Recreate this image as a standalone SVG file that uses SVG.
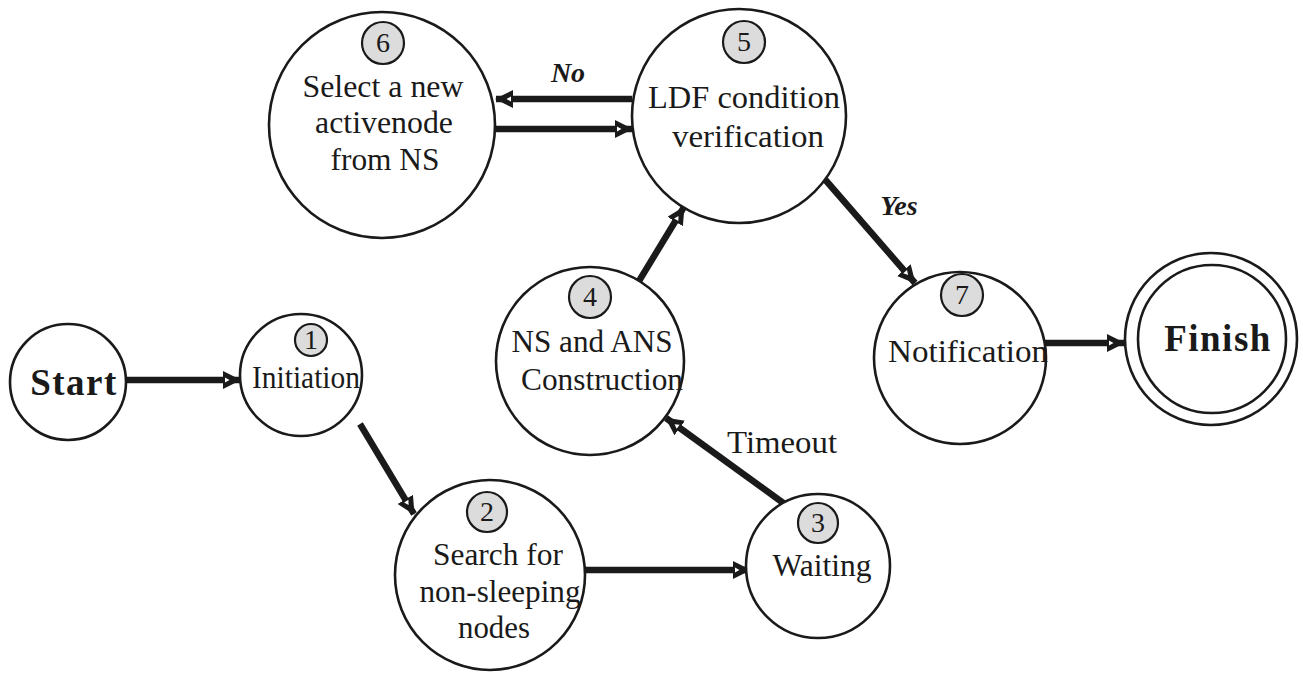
<svg xmlns="http://www.w3.org/2000/svg" width="1303" height="676" viewBox="0 0 1303 676">
  <style>
    text { font-family: 'Liberation Serif', 'Times New Roman', Times, serif; fill: #1a1a1a; text-anchor: middle; }
    .st { fill: #ffffff; stroke: #1a1a1a; stroke-width: 2.6; }
    .badge { fill: #dcdcdc; stroke: #1a1a1a; stroke-width: 2.2; }
    .lbl { font-size: 31px; }
    .num { font-size: 28px; }
    .big { font-size: 37px; font-weight: bold; letter-spacing: 1.5px; }
    .cond { font-size: 28px; font-weight: bold; font-style: italic; }
    .edge { stroke: #1a1a1a; stroke-width: 6.5; fill: none; marker-end: url(#head); }
  </style>
  <defs>
    <marker id="head" markerUnits="userSpaceOnUse" viewBox="0 0 18 18" markerWidth="18" markerHeight="18" refX="17" refY="9" orient="auto">
      <polygon points="0,0 18,9 0,18" fill="#1a1a1a"/>
      <polygon points="2,6.5 2,11.5 6.5,9" fill="#ffffff"/>
    </marker>
  </defs>

  <!-- transitions -->
  <g id="connectors">
    <line class="edge" x1="127" y1="380" x2="240" y2="380"/>
    <line class="edge" x1="360" y1="424" x2="414" y2="514"/>
    <line class="edge" x1="584" y1="570" x2="750" y2="570"/>
    <line class="edge" x1="786" y1="505" x2="666" y2="418"/>
    <line class="edge" x1="639" y1="281" x2="684" y2="207"/>
    <line class="edge" x1="632" y1="99" x2="496" y2="99"/>
    <line class="edge" x1="494" y1="129" x2="632" y2="129"/>
    <line class="edge" x1="822" y1="176" x2="915" y2="283"/>
    <line class="edge" x1="1045" y1="343" x2="1124" y2="343"/>
    <text class="cond" x="568" y="82">No</text>
    <text class="cond" x="899" y="215">Yes</text>
    <text class="lbl" x="782" y="453" textLength="110" lengthAdjust="spacingAndGlyphs">Timeout</text>
  </g>

  <g id="start">
    <circle class="st" cx="68" cy="382" r="58"/>
    <text class="big" x="74" y="395">Start</text>
  </g>

  <g id="state1">
    <circle class="st" cx="301" cy="375" r="61"/>
    <circle class="badge" cx="311" cy="340" r="16"/>
    <text class="num" x="311" y="349">1</text>
    <text class="lbl" x="306" y="388" textLength="108" lengthAdjust="spacingAndGlyphs">Initiation</text>
  </g>

  <g id="state2">
    <circle class="st" cx="490" cy="575" r="95"/>
    <circle class="badge" cx="487" cy="512" r="20"/>
    <text class="num" x="487" y="521">2</text>
    <text class="lbl" x="498" y="565" textLength="130" lengthAdjust="spacingAndGlyphs">Search for</text>
    <text class="lbl" x="500" y="602" textLength="161" lengthAdjust="spacingAndGlyphs">non-sleeping</text>
    <text class="lbl" x="494" y="638" textLength="72" lengthAdjust="spacingAndGlyphs">nodes</text>
  </g>

  <g id="state3">
    <circle class="st" cx="818" cy="566" r="72"/>
    <circle class="badge" cx="818" cy="523" r="20"/>
    <text class="num" x="818" y="532">3</text>
    <text class="lbl" x="822" y="576" textLength="99" lengthAdjust="spacingAndGlyphs">Waiting</text>
  </g>

  <g id="state4">
    <circle class="st" cx="590" cy="361" r="94"/>
    <circle class="badge" cx="590" cy="297" r="21"/>
    <text class="num" x="590" y="306">4</text>
    <text class="lbl" x="592" y="352" textLength="161" lengthAdjust="spacingAndGlyphs">NS and ANS</text>
    <text class="lbl" x="602" y="390" textLength="162" lengthAdjust="spacingAndGlyphs">Construction</text>
  </g>

  <g id="state5">
    <circle class="st" cx="739" cy="116" r="107"/>
    <circle class="badge" cx="744" cy="42" r="21"/>
    <text class="num" x="744" y="51">5</text>
    <text class="lbl" x="744" y="108" textLength="192" lengthAdjust="spacingAndGlyphs">LDF condition</text>
    <text class="lbl" x="748" y="147" textLength="152" lengthAdjust="spacingAndGlyphs">verification</text>
  </g>

  <g id="state6">
    <circle class="st" cx="382" cy="125" r="113"/>
    <circle class="badge" cx="383" cy="43" r="21"/>
    <text class="num" x="383" y="52">6</text>
    <text class="lbl" x="383" y="97" textLength="161" lengthAdjust="spacingAndGlyphs">Select a new</text>
    <text class="lbl" x="384" y="133" textLength="138" lengthAdjust="spacingAndGlyphs">activenode</text>
    <text class="lbl" x="385" y="170" textLength="109" lengthAdjust="spacingAndGlyphs">from NS</text>
  </g>

  <g id="state7">
    <circle class="st" cx="960" cy="358" r="86"/>
    <circle class="badge" cx="962" cy="295" r="21"/>
    <text class="num" x="962" y="304">7</text>
    <text class="lbl" x="968" y="362" textLength="160" lengthAdjust="spacingAndGlyphs">Notification</text>
  </g>

  <g id="finish">
    <circle class="st" cx="1211" cy="339" r="86"/>
    <circle class="st" cx="1212" cy="339" r="74"/>
    <text class="big" x="1218" y="351">Finish</text>
  </g>
</svg>
